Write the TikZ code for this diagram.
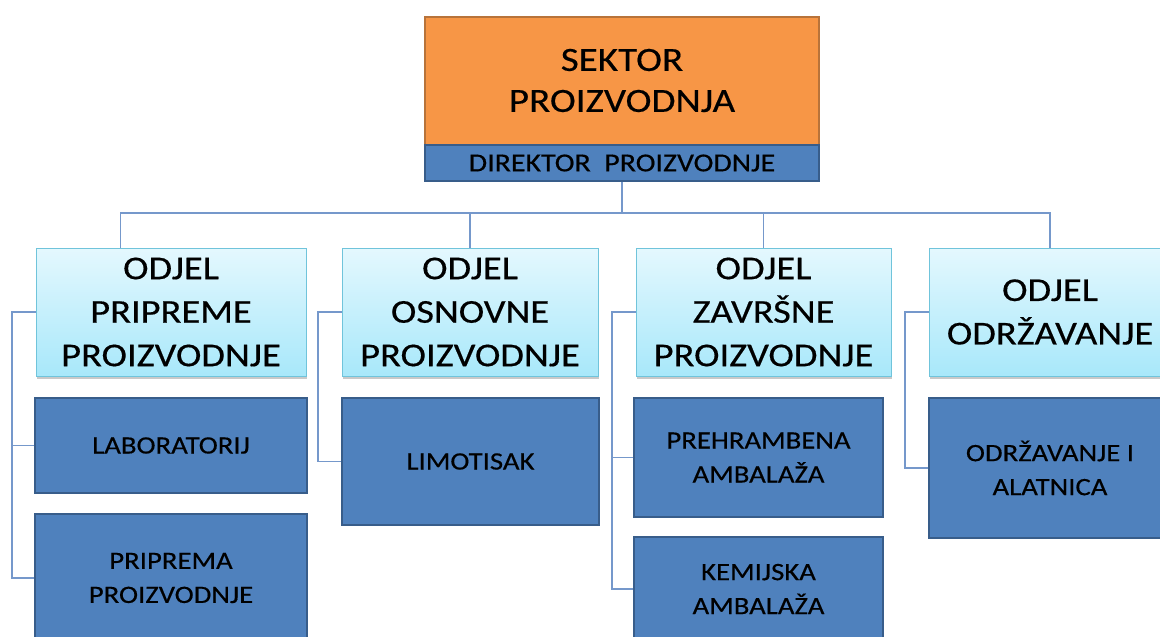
\documentclass[tikz,border=0pt]{standalone}
\usepackage{fontspec}
\setmainfont{Carlito}[FakeStretch=1.15, FakeBold=0.4]
\usetikzlibrary{shadows}
\definecolor{sektorfill}{HTML}{F79646}
\definecolor{sektorline}{HTML}{B8733A}
\definecolor{subfill}{HTML}{4F81BD}
\definecolor{subline}{HTML}{385D8A}
\definecolor{odjeltop}{HTML}{E4F8FE}
\definecolor{odjelbot}{HTML}{A8E8FA}
\definecolor{odjelline}{HTML}{70C4DB}
\definecolor{veza}{HTML}{7598CB}
\begin{document}
\begin{tikzpicture}[x=1pt, y=-1pt,
  sektor/.style={draw=sektorline, line width=2pt, fill=sektorfill, inner sep=0pt, align=center,
    font=\fontsize{34}{41}\selectfont},
  direktor/.style={draw=subline, line width=2pt, fill=subfill, inner sep=0pt,
    font=\fontsize{26}{30}\selectfont},
  odjel/.style={draw=odjelline, line width=1pt, top color=odjeltop, bottom color=odjelbot,
    inner sep=0pt, align=center, font=\fontsize{33.4}{43.5}\selectfont,
    drop shadow={shadow xshift=1pt, shadow yshift=-3pt, opacity=0.35, fill=black!60}},
  pododjel/.style={draw=subline, line width=2.2pt, fill=subfill, inner sep=0pt, align=center,
    font=\fontsize{25}{34}\selectfont},
  veza/.style={draw=veza, line width=1.3pt}]
\useasboundingbox (0,0) rectangle (1160,637);
\clip (0,0) rectangle (1160,637);
\fill[white] (0,0) rectangle (1160,637);

\node[sektor, minimum width=394pt, minimum height=128pt] (sektor) at (622,80.5){SEKTOR\\PROIZVODNJA};
\node[direktor, minimum width=394pt, minimum height=36pt] (dir) at (622,163){DIREKTOR\ \ PROIZVODNJE};

\node[odjel, minimum width=270pt, minimum height=128pt] (od1) at (171,312){ODJEL\\PRIPREME\\PROIZVODNJE};
\node[odjel, minimum width=256pt, minimum height=128pt] (od2) at (470,312){ODJEL\\OSNOVNE\\PROIZVODNJE};
\node[odjel, minimum width=255pt, minimum height=128pt] (od3) at (763.5,312){ODJEL\\ZAVRŠNE\\PROIZVODNJE};
\node[odjel, minimum width=242pt, minimum height=128pt] (od4) at (1050,312){ODJEL\\ODRŽAVANJE};

\node[pododjel, minimum width=272pt, minimum height=95pt] (lab) at (171,445.5){LABORATORIJ};
\node[pododjel, minimum width=272pt, minimum height=128pt] (prip) at (171,578){PRIPREMA\\PROIZVODNJE};
\node[pododjel, minimum width=257pt, minimum height=127pt] (limo) at (470.5,461.5){LIMOTISAK};
\node[pododjel, minimum width=249pt, minimum height=119pt] (preh) at (758.5,457.5){PREHRAMBENA\\AMBALAŽA};
\node[pododjel, minimum width=249pt, minimum height=104pt] (kem) at (758.5,589){KEMIJSKA\\AMBALAŽA};
\node[pododjel, minimum width=242pt, minimum height=140pt] (odr) at (1050,468){ODRŽAVANJE I\\ALATNICA};

\coordinate (sab) at (0,213);
\draw[veza] (dir.south) -- (dir.south |- sab) -| ([xshift=85pt]od1.north west);
\foreach \o in {od2,od3,od4}
  \draw[veza] (dir.south) -- (dir.south |- sab) -| (\o.north);

\coordinate (t1) at (12,312);
\coordinate (t2) at (318,312);
\coordinate (t3) at (612,312);
\coordinate (t4) at (905,312);
\draw[veza] (od1.west) -- (t1) |- (prip.west);
\draw[veza] (t1) |- (lab.west);
\draw[veza] (od2.west) -- (t2) |- (limo.west);
\draw[veza] (od3.west) -- (t3) |- (kem.west);
\draw[veza] (t3) |- (preh.west);
\draw[veza] (od4.west) -- (t4) |- (odr.west);

\end{tikzpicture}
\end{document}
